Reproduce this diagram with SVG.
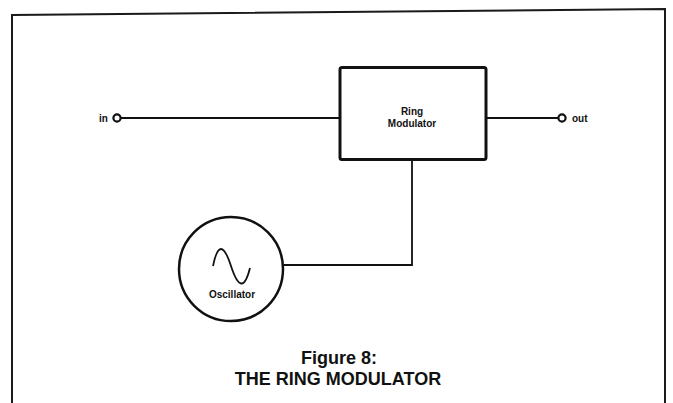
<svg xmlns="http://www.w3.org/2000/svg" width="673" height="403" viewBox="0 0 673 403">
<style>
.frame{fill:none;stroke:#1a1a1a;stroke-width:2}
.wire{fill:none;stroke:#111;stroke-width:1.8}
.box{fill:#fff;stroke:#111;stroke-width:3}
.term{fill:#fff;stroke:#111;stroke-width:2.2}
.lbl{font-family:"Liberation Sans",Arial,sans-serif;font-weight:bold;fill:#111}
.small{font-size:10px}
.cap{font-size:18px;text-anchor:middle}
</style>
<rect width="673" height="403" fill="#fff"/>
<path class="frame" d="M12,403 L12,15 L665,9 L665,403"/>
<g id="connectors">
<line class="wire" x1="121" y1="118" x2="340" y2="118"/>
<line class="wire" x1="486" y1="118" x2="558" y2="118"/>
<polyline class="wire" points="412,160 412,265 283,265"/>
</g>
<g id="in">
<text class="lbl small" x="99" y="122">in</text>
<circle class="term" cx="117" cy="118" r="3.6"/>
</g>
<g id="out">
<circle class="term" cx="562" cy="118" r="3.6"/>
<text class="lbl small" x="572" y="122">out</text>
</g>
<g id="ring-modulator">
<rect class="box" x="340" y="67.5" width="146" height="92" rx="2"/>
<text class="lbl small" x="412" y="115" text-anchor="middle">Ring</text>
<text class="lbl small" x="412" y="127" text-anchor="middle">Modulator</text>
</g>
<g id="oscillator">
<circle cx="231" cy="269" r="52" fill="#fff" stroke="#111" stroke-width="2.5"/>
<path class="wire" stroke-width="1.6" d="M213,266 Q220,232 231,266 Q242,300 250,268"/>
<text class="lbl small" x="232" y="298" text-anchor="middle">Oscillator</text>
</g>
<g id="caption">
<text class="lbl cap" x="339" y="364">Figure 8:</text>
<text class="lbl cap" x="338" y="385">THE RING MODULATOR</text>
</g>
</svg>
